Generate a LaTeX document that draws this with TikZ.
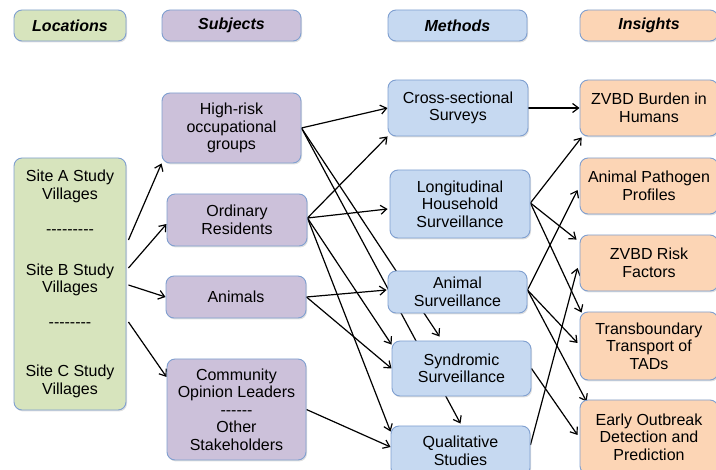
\documentclass[tikz,border=0pt]{standalone}
\usepackage{fontspec}
\setmainfont{Liberation Sans}
\usetikzlibrary{arrows.meta,backgrounds,calc,shadows}
\definecolor{gfill}{HTML}{D7E4BD}
\definecolor{pfill}{HTML}{CCC1DA}
\definecolor{bfill}{HTML}{C6D9F1}
\definecolor{ofill}{HTML}{FCD5B5}
\definecolor{bord}{HTML}{7F9FD0}
\begin{document}
\begin{tikzpicture}[x=1pt,y=-1pt,
  box/.style={draw=bord, line width=0.9pt, rounded corners=8pt, align=center, inner sep=0pt,
    font=\fontsize{16}{17.5}\selectfont,
    drop shadow={shadow xshift=1pt,shadow yshift=-1.5pt,opacity=0.25}},
  hdr/.style={box, font=\fontsize{16}{17.5}\selectfont\bfseries\itshape, minimum height=31pt},
  gbox/.style={box, fill=gfill},
  pbox/.style={box, fill=pfill, minimum width=139pt},
  bbox/.style={box, fill=bfill, minimum width=139pt},
  obox/.style={box, fill=ofill, minimum width=138pt},
  conn/.style={line width=1.2pt, -{Straight Barb[length=6pt,width=9pt]}}]
\path[use as bounding box] (0,0) rectangle (716,470);
% headers
\node[hdr, fill=gfill, minimum width=112pt] (hloc) at (70,25.5) {Locations};
\node[hdr, fill=pfill, minimum width=139pt] (hsub) at (231.5,25.5) {Subjects};
\node[hdr, fill=bfill, minimum width=139pt] (hmet) at (457.5,25.5) {Methods};
\node[hdr, fill=ofill, minimum width=138pt] (hins) at (649,25.5) {Insights};
% locations
\node[gbox, minimum width=112pt, minimum height=252pt] (loc) at (70,284)
  {Site A Study\\Villages\\[17.5pt]-{}-{}-{}-{}-{}-{}-{}-{}-\\[23.5pt]Site B Study\\Villages\\[17.5pt]-{}-{}-{}-{}-{}-{}-{}-\\[31.5pt]Site C Study\\Villages};
% subjects
\node[pbox, minimum height=70pt] (hr) at (231.5,128) {High-risk\\occupational\\groups};
\node[pbox, minimum width=140pt, minimum height=52pt] (ord) at (237,220) {Ordinary\\Residents};
\node[pbox, minimum width=140pt, minimum height=42pt] (ani) at (236,297) {Animals};
\node[pbox, minimum height=101pt] (com) at (236.5,409.5) {Community\\Opinion Leaders\\-{}-{}-{}-{}-{}-\\Other\\Stakeholders};
% methods
\node[bbox, minimum width=140pt, minimum height=56pt] (cs) at (458,108) {Cross-sectional\\Surveys};
\node[bbox, minimum width=140pt, minimum height=68pt] (lon) at (460,204) {Longitudinal\\Household\\Surveillance};
\node[bbox, minimum height=42pt] (asv) at (457.5,292) {Animal\\Surveillance};
\node[bbox, minimum height=55pt] (syn) at (461.5,368.5) {Syndromic\\Surveillance};
\node[bbox, minimum height=50pt] (qual) at (460.5,451) {Qualitative\\Studies};
% insights
\node[obox, minimum height=56pt] (bur) at (649,108) {ZVBD Burden in\\Humans};
\node[obox, minimum height=56pt] (pat) at (649,186) {Animal Pathogen\\Profiles};
\node[obox, minimum height=56pt] (rsk) at (649,263) {ZVBD Risk\\Factors};
\node[obox, minimum height=68pt] (tra) at (649,346) {Transboundary\\Transport of\\TADs};
\node[obox, minimum height=74pt] (eo) at (649,437) {Early Outbreak\\Detection and\\Prediction};
% connectors
\begin{scope}[on background layer]
\draw[conn] ($(loc.east)+(2,-44)$) -- (hr.south west);
\draw[conn] ($(loc.east)+(2,-16)$) -- ($(ord.west)+(0,4)$);
\draw[conn] ($(loc.east)+(2,1)$) -- (ani.west);
\draw[conn] ($(loc.east)+(2,38)$) -- ($(com.west)+(0,-32.5)$);
%
\draw[conn] (hr.east) -- (cs.west);
\draw[conn] (hr.east) -- ($(syn.north west)+(48,-4)$);
\draw[conn] (hr.east) -- ($(qual.north)+(0,-2)$);
\draw[conn] ($(ord.east)+(0,-2)$) -- (cs.south west);
\draw[conn] ($(ord.east)+(0,-2)$) -- ($(lon.west)+(-2,5)$);
\draw[conn] ($(ord.east)+(0,-2)$) -- ($(syn.north west)+(0,4)$);
\draw[conn] ($(ord.east)+(0,-2)$) -- ($(qual.north west)+(0,6)$);
\draw[conn] (ani.east) -- ($(asv.west)+(-1,-2)$);
\draw[conn] (ani.east) -- (syn.west);
\draw[conn] (com.east) -- ($(qual.west)+(0,-4)$);
%
\draw[conn] (cs.east) -- (bur.west);
\draw[conn] ($(lon.east)+(0,-1)$) -- ($(bur.south west)+(2,1)$);
\draw[conn] ($(lon.east)+(0,-1)$) -- ($(rsk.north west)+(-3,5)$);
\draw[conn] ($(lon.east)+(0,-1)$) -- ($(tra.north west)+(2,1)$);
\draw[conn] ($(asv.east)+(0,-2)$) -- ($(pat.west)+(-2,4)$);
\draw[conn] ($(asv.east)+(0,-2)$) -- ($(tra.west)+(-2,-3)$);
\draw[conn] ($(asv.east)+(0,-2)$) -- ($(eo.north west)+(7,2)$);
\draw[conn] (syn.east) -- ($(eo.west)+(-2,-2)$);
\draw[conn] ($(qual.east)+(0,-6)$) -- ($(rsk.west)+(-2,5)$);
\end{scope}
\end{tikzpicture}
\end{document}
